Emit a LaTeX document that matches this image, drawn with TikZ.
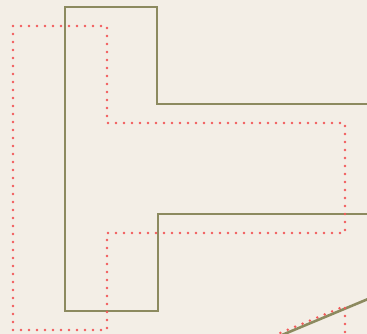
\documentclass[tikz,border=0pt]{standalone}
\usepackage{tikz}
\usetikzlibrary{arrows,positioning}
\definecolor{paper}{HTML}{F3EEE6}
\definecolor{olive}{HTML}{8C8A5F}
\definecolor{dotred}{HTML}{F25A5A}
\tikzset{every node/.append style={transform shape=false}}

\begin{document}
\begin{tikzpicture}[x=1pt,y=-1pt,
    wall/.style={olive,line width=2.6pt,line join=miter},
    outline/.style={dotred,line width=2.8pt,dash pattern=on 0pt off 8pt,line cap=round}]
  \fill[paper] (0,0) rectangle (367,334);
  \useasboundingbox (0,0) rectangle (367,334);
  \begin{scope}
    \clip (0,0) rectangle (367,334);
    % solid outline
    \draw[wall] (380,104) -- (157,104) -- (157,7) -- (65,7) -- (65,311) -- (158,311) -- (158,214) -- (380,214);
    \draw[wall] (270,340) -- (380,294);
    % dotted outline
    \draw[outline] (13,26) -- (107,26) -- (107,123) -- (345,123) -- (345,233) -- (107,233) -- (107,330) -- (13,330) -- cycle;
    \draw[outline] (345,340) -- (345,306) -- (268,338);
  \end{scope}
\end{tikzpicture}
\end{document}
